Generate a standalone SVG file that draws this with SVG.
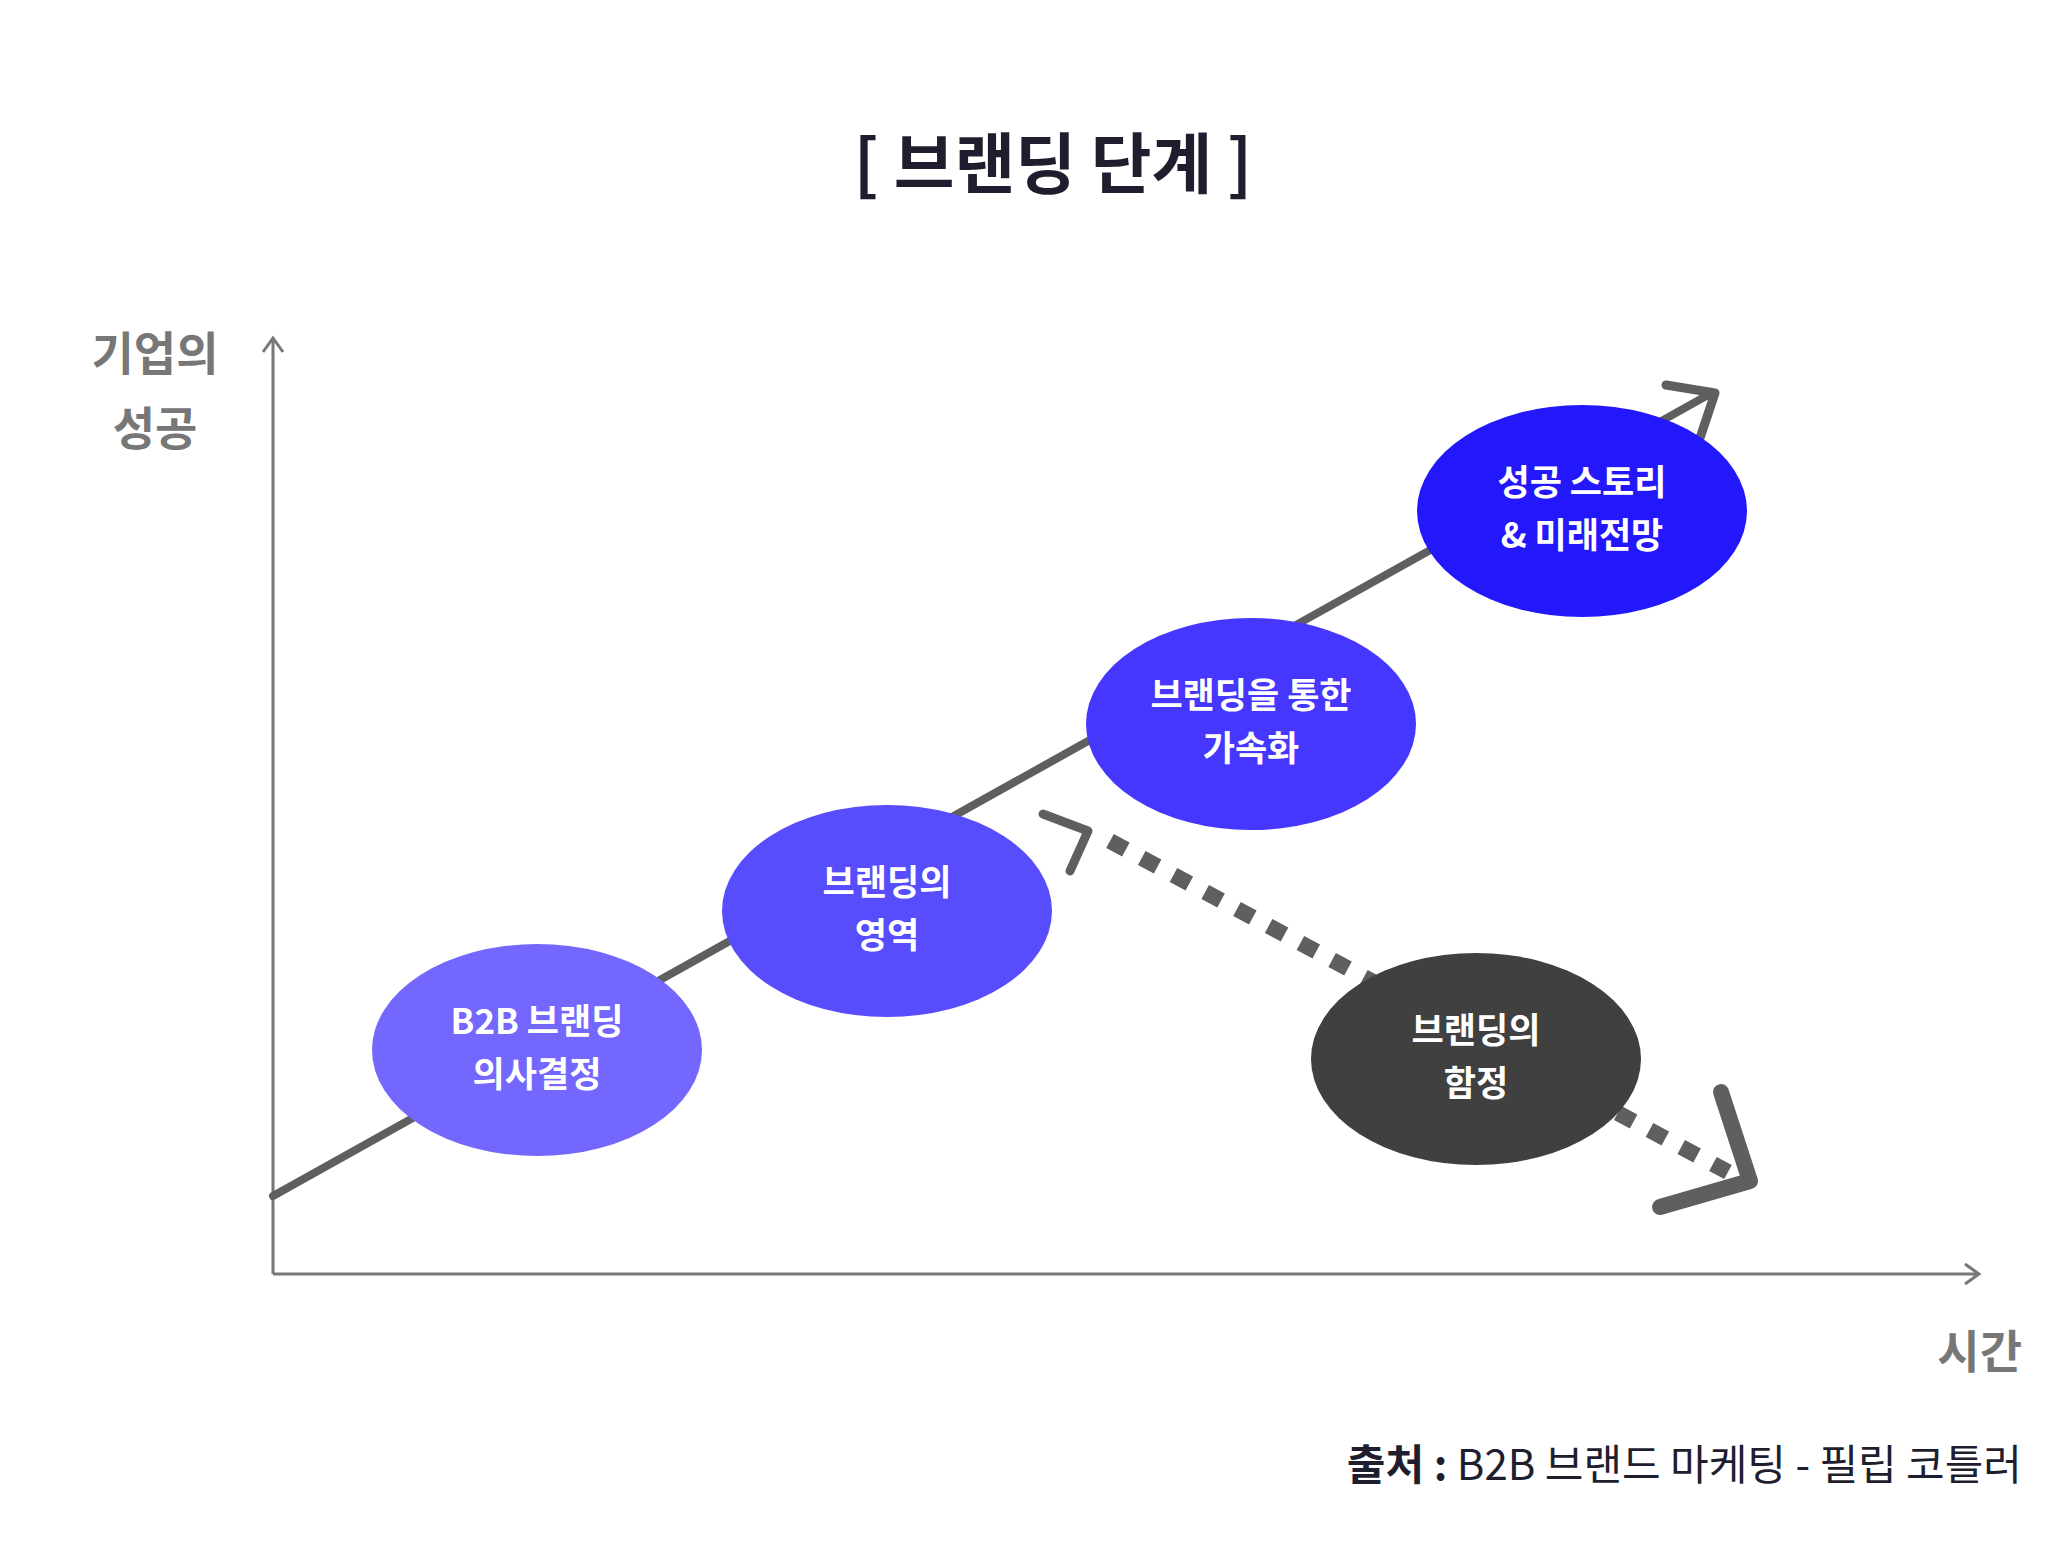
<svg xmlns="http://www.w3.org/2000/svg" width="2066" height="1554" viewBox="0 0 2066 1554">
<style>
.t{font-family:"Noto Sans CJK KR","Noto Sans",sans-serif;font-weight:bold}
.n{fill:#fff;font-size:35px;text-anchor:middle}
.ax{stroke:#777;stroke-width:3;fill:none}
.ln{stroke:#5f5f5f;fill:none;stroke-linecap:round;stroke-linejoin:round}
</style>
<rect width="2066" height="1554" fill="#fff"/>
<text class="t" x="1053" y="188" font-size="66" fill="#1e1e2e" text-anchor="middle">[ 브랜딩 단계 ]</text>
<text class="t" x="155" y="370" font-size="46" fill="#777" text-anchor="middle">기업의</text>
<text class="t" x="155" y="445" font-size="46" fill="#777" text-anchor="middle">성공</text>
<text class="t" x="2022" y="1368" font-size="46" fill="#777" text-anchor="end">시간</text>
<text x="2022" y="1480" font-size="42" fill="#1e1e2e" text-anchor="end" font-family="Noto Sans CJK KR,sans-serif"><tspan font-weight="bold">출처 : </tspan>B2B 브랜드 마케팅 - 필립 코틀러</text>
<g id="axes">
<path class="ax" d="M273 1274V338M263 352L273 338L283 352"/>
<path class="ax" d="M273 1274H1979M1965 1264L1979 1274L1965 1284"/>
</g>
<g id="connectors">
<path class="ln" stroke-width="8" d="M273 1196L1708 395"/>
<path class="ln" stroke-width="9" d="M1666 385L1715 393L1699 441"/>
<path class="ln" stroke-width="9" d="M1043 814L1088 831L1070 871"/>
<path stroke="#5f5f5f" stroke-width="16" fill="none" stroke-dasharray="18 18" d="M1110 841L1728 1172"/>
<path class="ln" stroke-width="16" d="M1721 1092L1750 1181L1660 1207"/>
</g>
<g id="n1"><ellipse cx="537" cy="1050" rx="165" ry="106" fill="#7367fd"/><text class="t n" x="537" y="1034">B2B 브랜딩</text><text class="t n" x="537" y="1087">의사결정</text></g>
<g id="n2"><ellipse cx="887" cy="911" rx="165" ry="106" fill="#584dfd"/><text class="t n" x="887" y="895">브랜딩의</text><text class="t n" x="887" y="948">영역</text></g>
<g id="n3"><ellipse cx="1251" cy="724" rx="165" ry="106" fill="#4537fd"/><text class="t n" x="1251" y="708">브랜딩을 통한</text><text class="t n" x="1251" y="761">가속화</text></g>
<g id="n4"><ellipse cx="1582" cy="511" rx="165" ry="106" fill="#2318fb"/><text class="t n" x="1582" y="495">성공 스토리</text><text class="t n" x="1582" y="548">&amp; 미래전망</text></g>
<g id="n5"><ellipse cx="1476" cy="1059" rx="165" ry="106" fill="#404040"/><text class="t n" x="1476" y="1043">브랜딩의</text><text class="t n" x="1476" y="1096">함정</text></g>
</svg>
